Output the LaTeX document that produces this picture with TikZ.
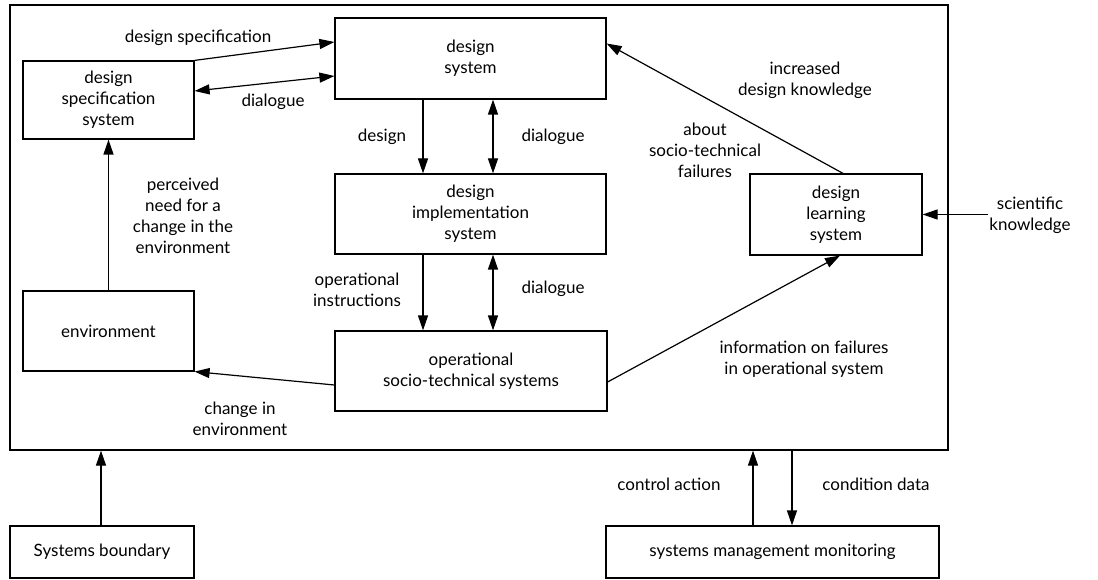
\documentclass[tikz,border=0pt]{standalone}
\usepackage{fontspec}
\setmainfont{Lato}
\usetikzlibrary{arrows.meta,calc}
\begin{document}
\begin{tikzpicture}[x=1pt,y=-1pt,
  box/.style={draw,line width=1.2pt,inner sep=0pt,align=center,font=\fontsize{17}{21}\selectfont},
  lbl/.style={align=center,inner sep=1pt,font=\fontsize{17}{21}\selectfont},
  arr/.style={line width=1.2pt,-{Triangle[length=15pt,width=10pt]}},
  darr/.style={line width=1.2pt,{Triangle[length=15pt,width=10pt]}-{Triangle[length=15pt,width=10pt]}}]
\useasboundingbox (0,0) rectangle (1098,580);
\node[box,minimum width=938pt,minimum height=445pt] (frame) at (479,227.5) {};
\node[box,minimum width=171pt,minimum height=78pt] (spec) at (108.5,100) {design\\specification\\system};
\node[box,minimum width=271pt,minimum height=81pt] (dsys) at (470.5,58.5) {design\\system};
\node[box,minimum width=271pt,minimum height=80pt] (impl) at (470.5,214) {design\\implementation\\system};
\node[box,minimum width=272pt,minimum height=80pt] (ops) at (471,371) {operational\\socio-technical systems};
\node[box,minimum width=171pt,minimum height=80pt] (env) at (108.5,331) {environment};
\node[box,minimum width=172pt,minimum height=81pt] (learn) at (836,214.5) {design\\learning\\system};
\node[box,minimum width=184pt,minimum height=52pt] (sb) at (102,552) {Systems boundary};
\node[box,minimum width=333pt,minimum height=52pt] (smm) at (772.5,552) {systems management monitoring};
\node[lbl] (sci) at (1030,215) {scientific\\knowledge};
% labels
\node[lbl] (l1) at (198,38) {design specification};
\node[lbl] (l2) at (273,102) {dialogue};
\node[lbl] (l3) at (382,137) {design};
\node[lbl] (l4) at (553,137) {dialogue};
\node[lbl] (l5) at (183,216) {perceived\\need for a\\change in the\\environment};
\node[lbl] (l6) at (357,290) {operational\\instructions};
\node[lbl] (l7) at (553,289) {dialogue};
\node[lbl] (l8) at (240,419) {change in\\environment};
\node[lbl] (l9) at (804,359) {information on failures\\in operational system};
\node[lbl] (l10) at (805,80) {increased\\design knowledge};
\node[lbl] (l11) at (705,150) {about\\socio-technical\\failures};
\node[lbl] (l12) at (669,484) {control action};
\node[lbl] (l13) at (876,484) {condition data};
% connectors
\draw[arr] (spec.north east) -- ($(dsys.west)+(0,-16.5)$);
\draw[darr] ($(spec.east)+(0,-9)$) -- ($(dsys.west)+(0,17.5)$);
\draw[arr] ($(dsys.south)+(-47.5,0)$) -- ($(impl.north)+(-47.5,0)$);
\draw[darr] ($(dsys.south)+(22.5,0)$) -- ($(impl.north)+(22.5,0)$);
\draw[arr] ($(impl.south)+(-47.5,0)$) coordinate (t1) -- (t1 |- ops.north);
\draw[darr] ($(impl.south)+(22.5,0)$) coordinate (t2) -- (t2 |- ops.north);
\draw[arr] ($(ops.west)+(0,14)$) -- (env.south east);
\draw[arr] (env.north) -- (spec.south);
\draw[arr] ($(ops.east)+(0,11)$) -- ($(learn.south)+(4,0)$);
\draw[arr] ($(learn.north)+(7,0)$) -- ($(dsys.east)+(0,-15)$);
\draw[arr] (sci.west |- learn.east) -- (learn.east);
\draw[arr] ($(sb.north)+(-1,0)$) coordinate (t3) -- (t3 |- frame.south);
\draw[arr] ($(smm.north)+(-19.5,0)$) coordinate (t4) -- (t4 |- frame.south);
\draw[arr] ($(smm.north)+(19.5,0)$) coordinate (t5) (t5 |- frame.south) -- (t5);
\end{tikzpicture}
\end{document}
